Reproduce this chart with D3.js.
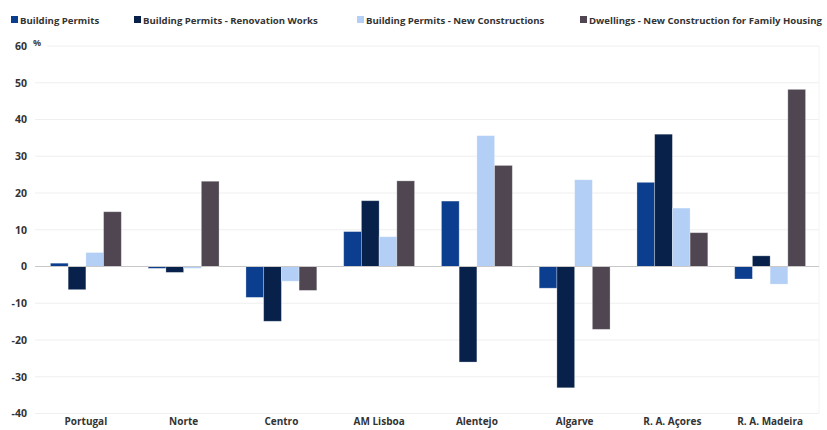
<!DOCTYPE html>
<html lang="en">
<head>
<meta charset="UTF-8">
<title>Building Permits by Region</title>
<script src="https://d3js.org/d3.v7.min.js"></script>
<style>
  body { margin: 0; background: #fff; font-family: "Open Sans", Arial, sans-serif; }
  .tick text { font-weight: 700; fill: #333; }
</style>
</head>
<body>
<svg width="827" height="430"></svg>
<script>
const regions = ["Portugal", "Norte", "Centro", "AM Lisboa", "Alentejo", "Algarve", "R. A. Açores", "R. A. Madeira"];
const seriesNames = ["Building Permits", "Building Permits - Renovation Works", "Building Permits - New Constructions", "Dwellings - New Construction for Family Housing"];
const buildingPermits = [0.9, -0.5, -8.4, 9.5, 17.8, -5.9, 22.9, -3.4];
const renovationWorks = [-6.3, -1.6, -14.9, 17.9, -26.0, -33.0, 36.0, 2.9];
const newConstructions = [3.8, -0.5, -4.0, 8.1, 35.6, 23.6, 15.9, -4.8];
const familyDwellings = [14.9, 23.2, -6.5, 23.3, 27.5, -17.1, 9.2, 48.2];
const yTicks = [60, 50, 40, 30, 20, 10, 0, -10, -20, -30, -40];
const colors = ["#0b3e8f", "#07214a", "#b3cff6", "#4f4651"];

const seriesValues = [buildingPermits, renovationWorks, newConstructions, familyDwellings];
const data = regions.map((r, i) => ({ region: r, values: seriesValues.map(s => s[i]) }));

const svg = d3.select("svg");
const plotLeft = 37, plotRight = 819, plotTop = 46, plotBottom = 413.5;

const x0 = d3.scaleBand().domain(regions).range([plotLeft, plotRight]).paddingInner(0.275).paddingOuter(0.1375);
const x1 = d3.scaleBand().domain(d3.range(4)).range([0, x0.bandwidth()]);
const y = d3.scaleLinear().domain([-40, 60]).range([plotBottom, plotTop]);

// gridlines
svg.append("g")
  .selectAll("line")
  .data(yTicks.filter(t => t !== 0))
  .join("line")
  .attr("x1", d => d === 60 ? 47 : 35)
  .attr("x2", plotRight)
  .attr("y1", d => y(d)).attr("y2", d => y(d))
  .attr("stroke", "#efefef").attr("stroke-width", 1);

svg.append("line")
  .attr("x1", plotRight).attr("x2", plotRight)
  .attr("y1", y(60)).attr("y2", y(-40))
  .attr("stroke", "#f3f3f3");

// y axis labels
const yAxis = svg.append("g")
  .attr("transform", `translate(27,0)`)
  .call(d3.axisLeft(y).tickValues(yTicks).tickFormat(d => String(d)).tickSize(0).tickPadding(0));
yAxis.select(".domain").remove();
yAxis.selectAll("text").attr("font-size", 10.5).attr("font-family", "Open Sans, sans-serif");

svg.append("text")
  .attr("x", 33).attr("y", 46)
  .attr("font-size", 9).attr("font-weight", 700).attr("fill", "#444")
  .text("%");

// bars
const groups = svg.append("g").selectAll("g")
  .data(data)
  .join("g")
  .attr("transform", d => `translate(${x0(d.region)},0)`);

groups.selectAll("rect")
  .data(d => d.values.map((v, k) => ({ k, v })))
  .join("rect")
  .attr("x", d => x1(d.k))
  .attr("width", x1.bandwidth())
  .attr("y", d => y(Math.max(0, d.v)))
  .attr("height", d => Math.abs(y(d.v) - y(0)))
  .attr("fill", d => colors[d.k])
  .attr("stroke", "rgba(255,255,255,0.35)")
  .attr("stroke-width", 0.8);

// zero line
svg.append("line")
  .attr("x1", 35).attr("x2", plotRight)
  .attr("y1", y(0)).attr("y2", y(0))
  .attr("stroke", "#c8c8c8").attr("stroke-width", 1);

// x axis labels
const xAxis = svg.append("g")
  .attr("transform", `translate(0,${plotBottom})`)
  .call(d3.axisBottom(x0).tickSize(0).tickPadding(4));
xAxis.select(".domain").remove();
xAxis.selectAll("text").attr("font-size", 10).attr("font-family", "Open Sans, sans-serif").attr("fill", "#222");

// legend
const legendX = [11, 134, 357, 580];
const legend = svg.append("g").selectAll("g")
  .data(seriesNames)
  .join("g")
  .attr("transform", (d, i) => `translate(${legendX[i]},20)`);
legend.append("rect")
  .attr("x", 0).attr("y", -4).attr("width", 7).attr("height", 7)
  .attr("fill", (d, i) => colors[i]);
legend.append("text")
  .attr("x", 9).attr("y", 3.5)
  .attr("font-size", 9.6).attr("font-weight", 700).attr("fill", "#333")
  .text(d => d);
</script>
</body>
</html>
